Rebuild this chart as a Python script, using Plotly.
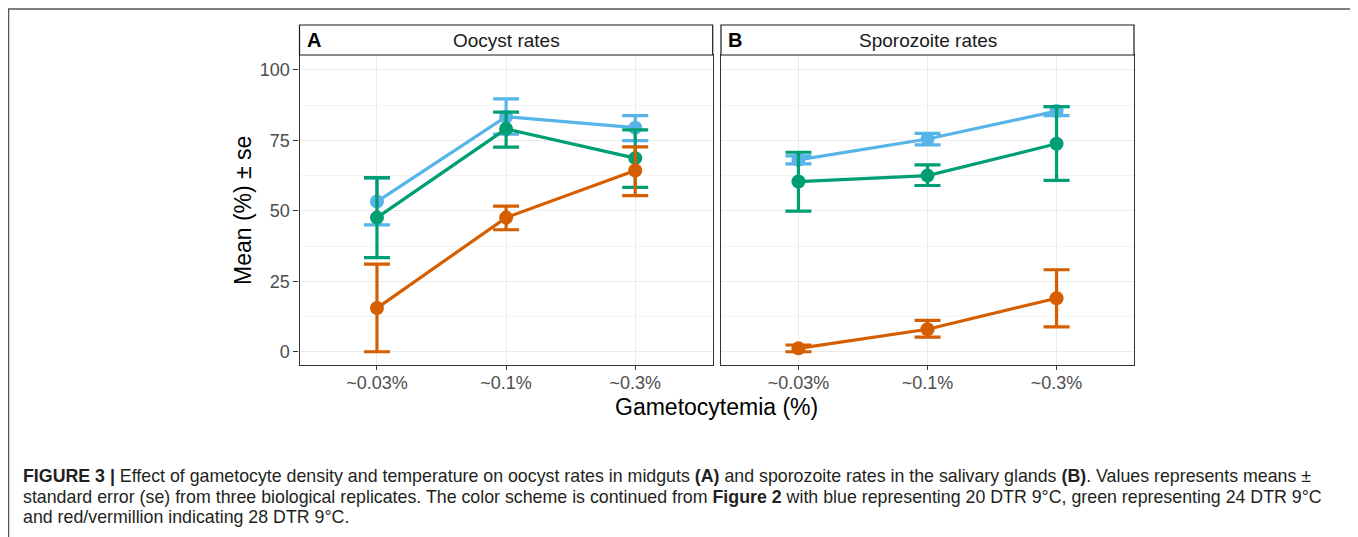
import plotly.graph_objects as go

# The page body has an 8px margin, so the figure starts at page (8, 8).
OFF = 8
W, H = 1350, 529

categories = ["~0.03%", "~0.1%", "~0.3%"]
groups = ["20 DTR 9°C", "24 DTR 9°C", "28 DTR 9°C"]
colors = ["#56B4E9", "#009E73", "#D55E00"]

# Panel A: oocyst rates (mean, upper bound, lower bound)
oocyst_mean = [[53.3, 83.4, 79.5], [47.6, 79.1, 68.7], [15.5, 47.6, 64.3]]
oocyst_upper = [[61.6, 89.7, 83.8], [61.8, 85.0, 78.7], [31.1, 51.7, 72.7]]
oocyst_lower = [[45.0, 77.2, 74.9], [33.4, 72.6, 58.3], [0.0, 43.3, 55.4]]

# Panel B: sporozoite rates
sporo_mean = [[68.1, 75.5, 85.4], [60.4, 62.5, 73.8], [1.2, 8.0, 19.0]]
sporo_upper = [[69.5, 77.5, 87.0], [70.8, 66.3, 87.0], [2.4, 11.1, 29.1]]
sporo_lower = [[66.7, 73.4, 83.8], [49.9, 59.0, 60.8], [0.0, 5.2, 8.8]]

panel_titles = ["Oocyst rates", "Sporozoite rates"]
panel_letters = ["A", "B"]
y_ticks = [0, 25, 50, 75, 100]
y_minor = [12.5, 37.5, 62.5, 87.5]

FONT = "Liberation Sans, Arial, Helvetica, sans-serif"


def px_x(p):
    return (p - OFF) / W


def px_y(p):
    return 1 - (p - OFF) / H


fig = go.Figure()

panels = [(oocyst_mean, oocyst_upper, oocyst_lower), (sporo_mean, sporo_upper, sporo_lower)]
for pi, (means, ups, lows) in enumerate(panels):
    xa = "x" if pi == 0 else "x2"
    ya = "y" if pi == 0 else "y2"
    for gi in range(3):
        m = means[gi]
        plus = [u - v for u, v in zip(ups[gi], m)]
        minus = [v - l for v, l in zip(m, lows[gi])]
        fig.add_trace(go.Scatter(
            x=categories, y=m, mode="lines+markers",
            xaxis=xa, yaxis=ya, name=groups[gi], showlegend=False,
            line=dict(color=colors[gi], width=3.2),
            marker=dict(color=colors[gi], size=14),
            error_y=dict(type="data", symmetric=False, array=plus, arrayminus=minus,
                         color=colors[gi], thickness=3.2, width=13),
        ))

ydom = [px_y(365), px_y(55)]
xdomA = [px_x(299.5), px_x(712.7)]
xdomB = [px_x(721), px_x(1134)]

tickfont = dict(family=FONT, size=18, color="#4D4D4D")
common_x = dict(type="category", categoryorder="array", categoryarray=categories,
                range=[-0.6, 2.6], showgrid=True, gridcolor="#EBEBEB", gridwidth=1,
                showline=True, linecolor="#333333", linewidth=1.2, mirror=True,
                ticks="outside", ticklen=4, tickcolor="#333333", tickwidth=1,
                ticklabelstandoff=-3,
                tickfont=tickfont, zeroline=False, fixedrange=True)
common_y = dict(range=[-4.7, 105.3], tickvals=y_ticks, showgrid=True, gridcolor="#EBEBEB",
                gridwidth=1, zeroline=False, showline=True, linecolor="#333333",
                linewidth=1.2, mirror=True,
                minor=dict(tickvals=y_minor, showgrid=True, gridcolor="#F4F4F4", gridwidth=1, ticks=""),
                fixedrange=True)

fig.update_layout(
    width=W, height=H, margin=dict(l=0, r=0, t=0, b=0),
    paper_bgcolor="white", plot_bgcolor="white", showlegend=False,
    xaxis=dict(domain=xdomA, anchor="y", **common_x),
    xaxis2=dict(domain=xdomB, anchor="y2", **common_x),
    yaxis=dict(domain=ydom, anchor="x", ticks="outside", ticklen=5, tickcolor="#333333",
               tickwidth=1, tickfont=tickfont, **common_y),
    yaxis2=dict(domain=ydom, anchor="x2", showticklabels=False, ticks="", **common_y),
    font=dict(family=FONT),
)

shapes = []
annotations = []
# outer figure frame (bottom edge falls below the visible page)
shapes.append(dict(type="rect", xref="paper", yref="paper", x0=px_x(8.5), x1=px_x(1353),
                   y0=-0.2, y1=px_y(9), line=dict(color="#555555", width=1.5),
                   fillcolor="rgba(0,0,0,0)", layer="above"))
for pi, dom in enumerate([xdomA, xdomB]):
    shapes.append(dict(type="rect", xref="paper", yref="paper", x0=dom[0], x1=dom[1],
                       y0=px_y(55), y1=px_y(25), line=dict(color="#1A1A1A", width=1.2),
                       fillcolor="white"))
    annotations.append(dict(xref="paper", yref="paper", x=(dom[0] + dom[1]) / 2, y=px_y(40),
                            text=panel_titles[pi], showarrow=False, xanchor="center", yanchor="middle",
                            font=dict(family=FONT, size=19, color="#1A1A1A")))
    annotations.append(dict(xref="paper", yref="paper", x=dom[0] + 5 / W, y=px_y(40),
                            text="<b>" + panel_letters[pi] + "</b>", showarrow=False,
                            xanchor="left", yanchor="middle",
                            font=dict(family=FONT, size=20, color="black")))

# axis titles
annotations.append(dict(xref="paper", yref="paper", x=px_x(716), y=px_y(407),
                        text="Gametocytemia (%)", showarrow=False, xanchor="center", yanchor="middle",
                        font=dict(family=FONT, size=23, color="black")))
annotations.append(dict(xref="paper", yref="paper", x=px_x(243), y=px_y(211),
                        text="Mean (%) ± se", showarrow=False, textangle=-90,
                        xanchor="center", yanchor="middle",
                        font=dict(family=FONT, size=23, color="black")))

caption_lines = [
    "<b>FIGURE 3 |</b> Effect of gametocyte density and temperature on oocyst rates in midguts <b>(A)</b> and sporozoite rates in the salivary glands <b>(B)</b>. Values represents means ±",
    "standard error (se) from three biological replicates. The color scheme is continued from <b>Figure 2</b> with blue representing 20 DTR 9°C, green representing 24 DTR 9°C",
    "and red/vermillion indicating 28 DTR 9°C.",
]
caption_y = [476, 497, 517]
for line, yy in zip(caption_lines, caption_y):
    annotations.append(dict(xref="paper", yref="paper", x=px_x(21), y=px_y(yy), text=line,
                            showarrow=False, xanchor="left", yanchor="middle",
                            font=dict(family=FONT, size=17.8, color="#231F20")))

fig.update_layout(shapes=shapes, annotations=annotations)
fig.write_html("out.html")
